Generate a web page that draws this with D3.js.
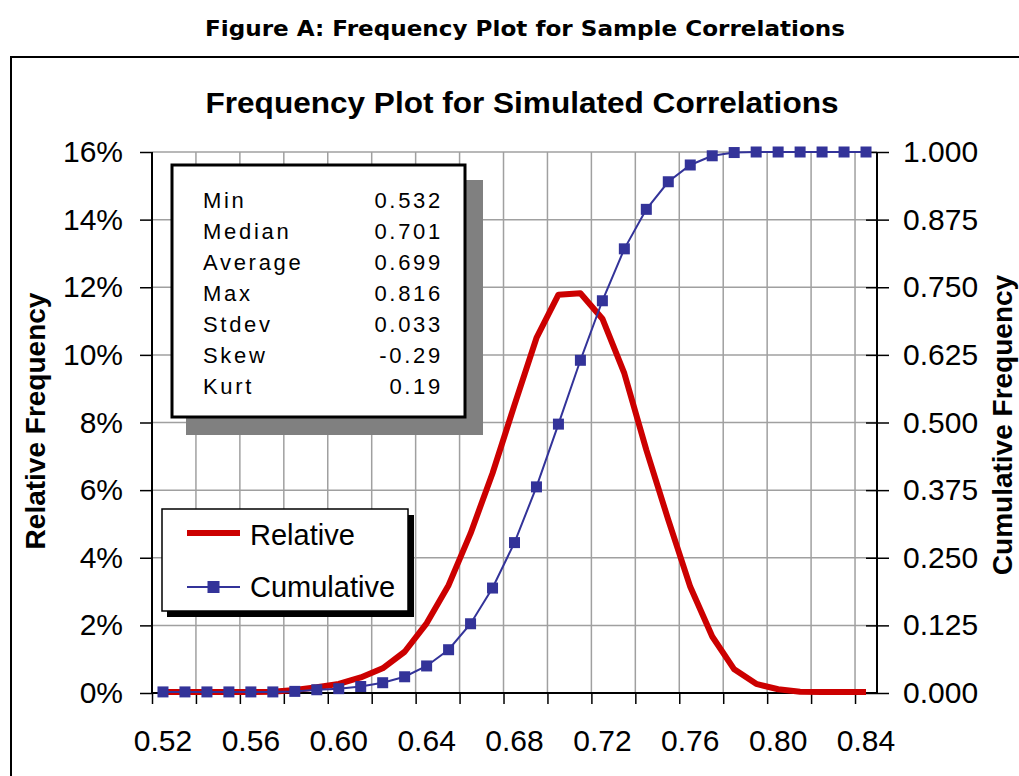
<!DOCTYPE html>
<html><head><meta charset="utf-8">
<script src="https://cdn.jsdelivr.net/npm/d3@7/dist/d3.min.js"></script>
<style>
body{margin:0;background:#fff}
svg{display:block}
text{font-family:"Liberation Sans",Arial,sans-serif;fill:#000}
</style>
</head><body>
<svg id="c" width="1019" height="776"></svg>
<script>
// ---- data ----
const categories = ["0.52","0.53","0.54","0.55","0.56","0.57","0.58","0.59","0.60","0.61","0.62",
  "0.63","0.64","0.65","0.66","0.67","0.68","0.69","0.70","0.71","0.72","0.73","0.74","0.75",
  "0.76","0.77","0.78","0.79","0.80","0.81","0.82","0.83","0.84"];
const relative = [0.03,0.03,0.03,0.03,0.03,0.04,0.09,0.17,0.27,0.46,0.73,1.22,2.06,3.19,4.72,6.50,
  8.52,10.50,11.78,11.82,11.07,9.45,7.19,5.12,3.14,1.67,0.70,0.27,0.11,0.04,0.03,0.03,0.03];
const cumulative = [0.002,0.002,0.002,0.002,0.002,0.002,0.003,0.006,0.008,0.012,0.019,0.030,0.050,
  0.080,0.128,0.194,0.278,0.381,0.497,0.615,0.725,0.821,0.894,0.945,0.976,0.993,0.999,1,1,1,1,1,1];
const leftTicks = [0,2,4,6,8,10,12,14,16];
const rightTicks = [0,0.125,0.25,0.375,0.5,0.625,0.75,0.875,1];
const xLabels = ["0.52","0.56","0.60","0.64","0.68","0.72","0.76","0.80","0.84"];
const statNames = ["Min","Median","Average","Max","Stdev","Skew","Kurt"];
const statValues = ["0.532","0.701","0.699","0.816","0.033","-0.29","0.19"];
const seriesNames = ["Relative","Cumulative"];
const figureTitle = "Figure A: Frequency Plot for Sample Correlations";
const chartTitle = "Frequency Plot for Simulated Correlations";
const leftTitle = "Relative Frequency";
const rightTitle = "Cumulative Frequency";

// ---- layout ----
const L = 152, R = 877, T = 152, B = 693;
const RED = "#cc0000", BLUE = "#333399", GRID = "#a0a0a0";
const svg = d3.select("#c");

const x = d3.scaleBand().domain(categories).range([L, R]).padding(0);
const xb = d3.scaleLinear().domain([0, categories.length]).range([L, R]);
const yL = d3.scaleLinear().domain([0, 16]).range([B, T]);
const yR = d3.scaleLinear().domain([0, 1]).range([B, T]);
const cx = c => x(c) + x.bandwidth() / 2;

// figure title
svg.append("text").attr("x", 525).attr("y", 36).attr("text-anchor", "middle")
  .style("font-family", "'DejaVu Sans',sans-serif").style("font-weight", "bold")
  .style("font-size", "21px").attr("textLength", 640).attr("lengthAdjust", "spacingAndGlyphs")
  .text(figureTitle);

// chart border
svg.append("rect").attr("x", 11).attr("y", 57).attr("width", 1100).attr("height", 800)
  .attr("fill", "#fff").attr("stroke", "#000").attr("stroke-width", 2);

// chart title
svg.append("text").attr("x", 522).attr("y", 113).attr("text-anchor", "middle")
  .style("font-weight", "bold").style("font-size", "29px")
  .attr("textLength", 633).attr("lengthAdjust", "spacingAndGlyphs").text(chartTitle);

// gridlines
const grid = svg.append("g").attr("stroke", GRID).attr("stroke-width", 1.5);
grid.selectAll("line.h").data(leftTicks.filter(d => d > 0)).join("line")
  .attr("x1", L).attr("x2", R).attr("y1", d => yL(d)).attr("y2", d => yL(d));
const vIdx = d3.range(2, categories.length, 2);
grid.selectAll("line.v").data(vIdx).join("line")
  .attr("x1", d => xb(d)).attr("x2", d => xb(d)).attr("y1", T).attr("y2", B);

// axes
function styleAxis(g, fs) {
  g.selectAll("line").attr("stroke", "#000").attr("stroke-width", 1.5);
  g.selectAll("path").remove();
  g.selectAll("text").style("font-size", fs + "px").style("font-family", "'Liberation Sans',Arial,sans-serif").attr("fill", "#000");
}
const gl = svg.append("g").attr("transform", `translate(${L},0)`)
  .call(d3.axisLeft(yL).tickValues(leftTicks).tickFormat(d => d + "%").tickSize(12).tickPadding(17));
styleAxis(gl, 30);
const gr = svg.append("g").attr("transform", `translate(${R},0)`)
  .call(d3.axisRight(yR).tickValues(rightTicks).tickFormat(d3.format(".3f")).tickSize(12).tickPadding(14));
styleAxis(gr, 30);
gr.selectAll(".tick line").attr("x1", -11);
const gbt = svg.append("g").attr("transform", `translate(0,${B})`)
  .call(d3.axisBottom(xb).tickValues(d3.range(0, categories.length, 2)).tickFormat("").tickSize(11));
styleAxis(gbt, 30);
const gbl = svg.append("g").attr("transform", `translate(0,${B})`)
  .call(d3.axisBottom(x).tickValues(xLabels).tickSize(0).tickPadding(37));
styleAxis(gbl, 30);

// axis lines
svg.append("g").attr("stroke", "#000").attr("stroke-width", 2).selectAll("line")
  .data([[L, T, L, B], [L, B, R, B], [R, T, R, B]]).join("line")
  .attr("x1", d => d[0]).attr("y1", d => d[1]).attr("x2", d => d[2]).attr("y2", d => d[3]);

// axis titles
svg.append("text").attr("transform", "translate(45,421) rotate(-90)").attr("text-anchor", "middle")
  .style("font-weight", "bold").style("font-size", "28px").text(leftTitle);
svg.append("text").attr("transform", "translate(1012,425) rotate(-90)").attr("text-anchor", "middle")
  .style("font-weight", "bold").style("font-size", "28px").text(rightTitle);

// relative line
svg.append("path").datum(relative)
  .attr("fill", "none").attr("stroke", RED).attr("stroke-width", 6).attr("stroke-linejoin", "round")
  .attr("d", d3.line().x((d, i) => cx(categories[i])).y(d => yL(d)));

// cumulative line + markers
svg.append("path").datum(cumulative)
  .attr("fill", "none").attr("stroke", BLUE).attr("stroke-width", 2)
  .attr("d", d3.line().x((d, i) => cx(categories[i])).y(d => yR(d)));
svg.append("g").selectAll("rect").data(cumulative).join("rect")
  .attr("x", (d, i) => cx(categories[i]) - 5.5).attr("y", d => yR(d) - 5.5)
  .attr("width", 11).attr("height", 11).attr("fill", BLUE);

// stats box
svg.append("rect").attr("x", 186).attr("y", 180).attr("width", 297).attr("height", 255).attr("fill", "#808080");
svg.append("rect").attr("x", 172).attr("y", 165).attr("width", 293).attr("height", 252)
  .attr("fill", "#fff").attr("stroke", "#000").attr("stroke-width", 3);
const sb = svg.append("g").style("font-family", "'DejaVu Sans',Verdana,sans-serif")
  .style("font-size", "22px").style("letter-spacing", "2.7px");
sb.selectAll("text.n").data(statNames).join("text")
  .attr("x", 203).attr("y", (d, i) => 208 + i * 31).text(d => d);
sb.selectAll("text.v").data(statValues).join("text")
  .attr("x", 443).attr("y", (d, i) => 208 + i * 31).attr("text-anchor", "end").text(d => d);

// legend
svg.append("rect").attr("x", 167).attr("y", 515).attr("width", 247).attr("height", 102).attr("fill", "#000");
svg.append("rect").attr("x", 162).attr("y", 509).attr("width", 246).attr("height", 102)
  .attr("fill", "#fff").attr("stroke", "#000").attr("stroke-width", 1.5);
svg.append("line").attr("x1", 187).attr("x2", 240).attr("y1", 533).attr("y2", 533)
  .attr("stroke", RED).attr("stroke-width", 6);
svg.append("line").attr("x1", 187).attr("x2", 240).attr("y1", 587).attr("y2", 587)
  .attr("stroke", BLUE).attr("stroke-width", 2);
svg.append("rect").attr("x", 213.5 - 6).attr("y", 587 - 6).attr("width", 12).attr("height", 12).attr("fill", BLUE);
svg.append("g").selectAll("text").data(seriesNames).join("text")
  .attr("x", 250).attr("y", (d, i) => 545 + i * 52).style("font-size", "29px").text(d => d);
</script>
</body></html>
